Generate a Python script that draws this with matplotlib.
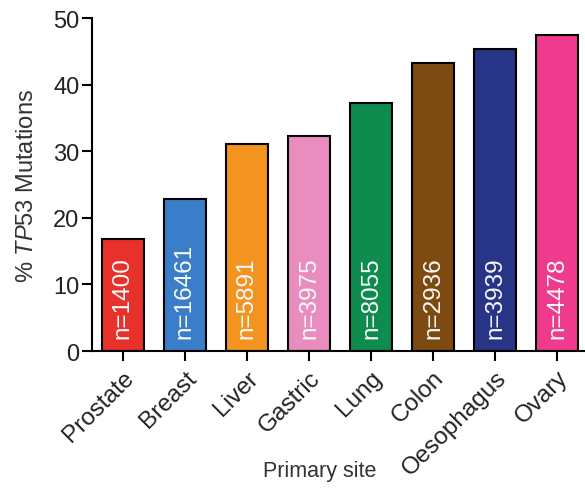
import matplotlib
matplotlib.use("Agg")
import matplotlib.pyplot as plt
import numpy as np

plt.rcParams['font.family'] = ['Liberation Sans', 'DejaVu Sans']
plt.rcParams['mathtext.fontset'] = 'custom'
plt.rcParams['mathtext.it'] = 'Liberation Sans:italic'
plt.rcParams['mathtext.rm'] = 'Liberation Sans'

sites = ['Prostate', 'Breast', 'Liver', 'Gastric', 'Lung', 'Colon', 'Oesophagus', 'Ovary']
pct = [16.9, 22.8, 31.1, 32.3, 37.2, 43.3, 45.4, 47.5]
counts = [1400, 16461, 5891, 3975, 8055, 2936, 3939, 4478]
colors = ['#E8312A', '#3A7DC9', '#F39320', '#E98DBE', '#0E8C4E', '#7D4A12', '#283485', '#EE3B8E']
yticks = [0, 10, 20, 30, 40, 50]

fig = plt.figure(figsize=(5.85, 4.89), dpi=100)
ax = fig.add_axes([0.157, 0.280, 0.843, 0.681])

x = np.arange(len(sites))
ax.bar(x, pct, width=0.67, color=colors, edgecolor='black', linewidth=1.5, zorder=2)

# sample sizes written up each bar
for xi, n in zip(x, counts):
    ax.text(xi, 2.0, 'n=%d' % n, rotation=90, ha='center', va='bottom',
            color='#FAFAFA', fontsize=17.5, zorder=3)

ax.set_xlim(-0.5, 7.45)
ax.set_ylim(0, 50)
ax.set_yticks(yticks)
ax.set_xticks(x)
ax.set_xticklabels(sites, rotation=45, ha='right', rotation_mode='anchor',
                   fontsize=17.5, color='#222222')
ax.tick_params(axis='y', labelsize=17, length=7, width=1.5, pad=2, labelcolor='#222222')
ax.tick_params(axis='x', length=7, width=1.5, pad=4)

for s in ['top', 'right']:
    ax.spines[s].set_visible(False)
for s in ['left', 'bottom']:
    ax.spines[s].set_linewidth(1.5)

ax.set_ylabel(r'% $\it{TP53}$ Mutations', fontsize=17, color='#333333')
ax.yaxis.set_label_coords(-0.11, 0.5)
ax.set_xlabel('Primary site', fontsize=15.5, color='#333333')
ax.xaxis.set_label_coords(0.462, -0.328)

fig.savefig('out.png', dpi=100)
